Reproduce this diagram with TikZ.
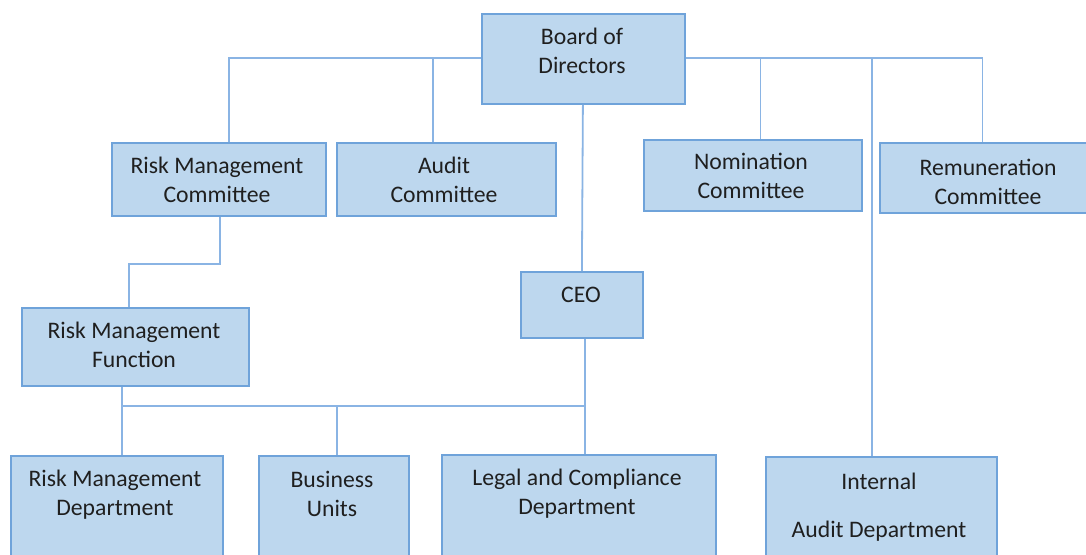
\documentclass[tikz,border=0pt]{standalone}
\usepackage{fontspec}
\setmainfont{Carlito}
\usetikzlibrary{positioning}
\definecolor{boxfill}{HTML}{BDD7EE}
\definecolor{boxline}{HTML}{6FA3DA}
\definecolor{wire}{HTML}{8AB4E4}
\definecolor{ink}{HTML}{1F1F1F}

\begin{document}
\begin{tikzpicture}[x=1pt, y=-1pt,
  unit/.style={draw=boxline, fill=boxfill, line width=1.8pt, inner sep=0pt, anchor=north west},
  lbl/.style={text=ink, align=center, inner sep=0pt, font=\fontsize{23.7}{29}\selectfont},
  wire/.style={draw=wire, line width=1.8pt}]
\useasboundingbox (0,0) rectangle (1086,554);

% boxes (top left corner, size)
\node[unit, minimum width=203, minimum height=90] (board) at (481,13) {};
\node[unit, minimum width=214, minimum height=73] (rmc) at (111,142) {};
\node[unit, minimum width=219, minimum height=73] (audit) at (336,142) {};
\node[unit, minimum width=218, minimum height=71] (nom) at (643,139) {};
\node[unit, minimum width=210, minimum height=70] (rem) at (879,142) {};
\node[unit, minimum width=122, minimum height=66] (ceo) at (520,271) {};
\node[unit, minimum width=227, minimum height=78] (rmf) at (21,307) {};
\node[unit, minimum width=212, minimum height=110] (rmd) at (10,455) {};
\node[unit, minimum width=150, minimum height=110] (bu) at (258,455) {};
\node[unit, minimum width=274, minimum height=110] (legal) at (441,454) {};
\node[unit, minimum width=231, minimum height=110] (iad) at (765,456) {};

% texts
\node[lbl] (board-t) at (582,51) {Board of\\Directors};
\node[lbl] (rmc-t) at (217,180) {Risk Management\\Committee};
\node[lbl] (audit-t) at (444,180) {Audit\\Committee};
\node[lbl] (nom-t) at (751,176) {Nomination\\Committee};
\node[lbl] (rem-t) at (988,182) {Remuneration\\Committee};
\node[lbl] (ceo-t) at (581,295) {CEO};
\node[lbl] (rmf-t) at (134,345) {Risk Management\\Function};
\node[lbl] (rmd-t) at (115,495) {Risk Management\\Department};
\node[lbl] (bu-t) at (332,494) {Business\\Units};
\node[lbl] (legal-t) at (577,494) {Legal and Compliance\\Department};
\node[lbl] (iad-t1) at (879,481) {Internal};
\node[lbl] (iad-t2) at (879,531) {Audit Department};

% board to committees
\draw[wire] ([yshift=1]board.west) -| ([xshift=10]rmc.north);
\draw[wire] ([xshift=-13.5]audit.north) -- ++(0,-85);
\draw[wire] ([yshift=1]board.east) -| ([xshift=-2.5]rem.north);
\draw[wire] ([xshift=7.5]nom.north) -- ++(0,-82);
\draw[wire] ([xshift=-9.5]iad.north) -- ++(0,-399);

% committee to function, board to ceo
\draw[wire] ([xshift=1]rmc.south) -- ++(0,47) -| ([xshift=-6.5]rmf.north);
\draw[wire] ([xshift=-0.5]board.south) -- (ceo.north);

% ceo to departments
\coordinate (bus) at (584,406);
\draw[wire] ([xshift=3]ceo.south) -- ([xshift=6]legal.north);
\draw[wire] (bus) -- (121,406);
\draw[wire] ([xshift=-13.5]rmf.south) -- ([xshift=5]rmd.north);
\draw[wire] ([xshift=3]bu.north) -- ++(0,-49);
\end{tikzpicture}
\end{document}
